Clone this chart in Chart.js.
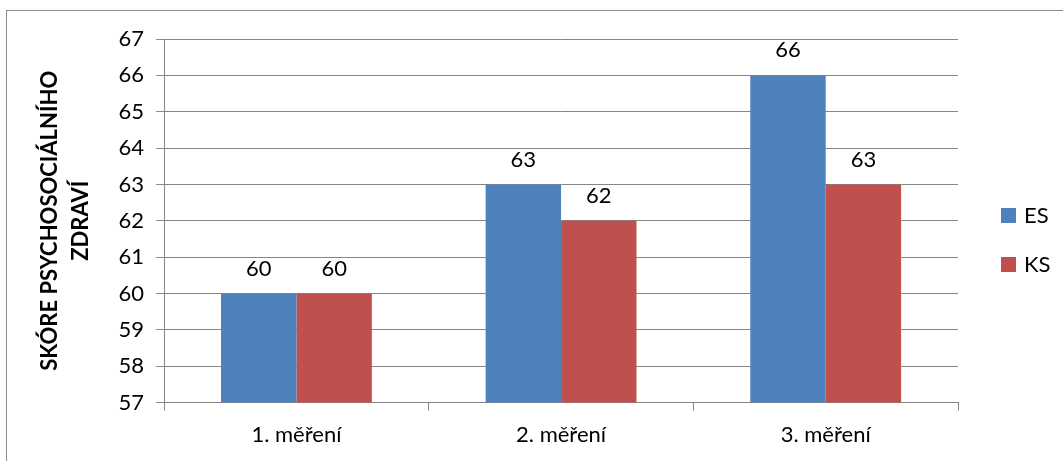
<!DOCTYPE html>
<html>
<head>
<meta charset="utf-8">
<script src="https://cdn.jsdelivr.net/npm/chart.js@4"></script>
<style>
  body { margin: 0; background: #fff; }
  #wrap { position: relative; width: 1063px; height: 461px; overflow: hidden; }
  #frame { position: absolute; left: 6px; top: 10px; width: 1100px; height: 500px; border: 1px solid #8c8c8c; }
  #chart { position: absolute; left: 0; top: 0; }
</style>
</head>
<body>
<div id="wrap">
  <div id="frame"></div>
  <canvas id="chart" width="1063" height="461"></canvas>
</div>
<script>
// categories and series
const categories = ['1. měření', '2. měření', '3. měření'];
const esValues = [60, 63, 66];
const ksValues = [60, 62, 63];
const seriesNames = ['ES', 'KS'];
// y axis range
const yMin = 57;
const yMax = 67;

const gridColor = '#868686';
const fontFamily = 'Lato, "Open Sans", sans-serif';
const fontSize = 22;

// draw the value above each bar
const valueLabels = {
  id: 'valueLabels',
  afterDatasetsDraw(chart) {
    const ctx = chart.ctx;
    ctx.save();
    ctx.font = fontSize + 'px ' + fontFamily;
    ctx.fillStyle = '#000';
    ctx.textAlign = 'center';
    ctx.textBaseline = 'middle';
    chart.data.datasets.forEach((ds, i) => {
      chart.getDatasetMeta(i).data.forEach((bar, j) => {
        ctx.fillText(ds.data[j], bar.x, bar.y - 25);
      });
    });
    ctx.restore();
  }
};

// legend at the right, drawn by hand so it sits where the original has it
const sideLegend = {
  id: 'sideLegend',
  afterDraw(chart) {
    const ctx = chart.ctx;
    const x = chart.chartArea.right + 43;
    let y = 215;
    ctx.save();
    ctx.font = fontSize + 'px ' + fontFamily;
    ctx.textBaseline = 'middle';
    chart.data.datasets.forEach(ds => {
      ctx.fillStyle = ds.backgroundColor;
      ctx.fillRect(x, y - 7, 15, 15);
      ctx.fillStyle = '#000';
      ctx.fillText(ds.label, x + 23, y + 1);
      y += 49;
    });
    ctx.restore();
  }
};

const chart = new Chart(document.getElementById('chart'), {
  type: 'bar',
  data: {
    labels: categories,
    datasets: [
      { label: seriesNames[0], data: esValues, backgroundColor: '#4F81BD' },
      { label: seriesNames[1], data: ksValues, backgroundColor: '#C0504D' }
    ]
  },
  options: {
    responsive: false,
    animation: false,
    categoryPercentage: 0.57,
    barPercentage: 1,
    layout: { padding: { left: 35, top: 39, right: 105, bottom: 2 } },
    plugins: {
      legend: { display: false },
      tooltip: { enabled: false }
    },
    scales: {
      x: {
        grid: {
          drawOnChartArea: false,
          drawTicks: true,
          tickLength: 8,
          color: gridColor
        },
        border: { color: gridColor },
        ticks: {
          color: '#000',
          padding: 11,
          font: { family: fontFamily, size: fontSize }
        }
      },
      y: {
        min: yMin,
        max: yMax,
        ticks: {
          stepSize: 1,
          color: '#000',
          padding: 12,
          font: { family: fontFamily, size: fontSize }
        },
        grid: { color: gridColor, tickLength: 8 },
        border: { color: gridColor },
        title: {
          display: true,
          text: ['SKÓRE PSYCHOSOCIÁLNÍHO', 'ZDRAVÍ'],
          color: '#000',
          padding: { top: 0, bottom: 10 },
          font: { family: fontFamily, size: fontSize, weight: 'bold', lineHeight: 1.4 }
        }
      }
    }
  },
  plugins: [valueLabels, sideLegend]
});
</script>
</body>
</html>
